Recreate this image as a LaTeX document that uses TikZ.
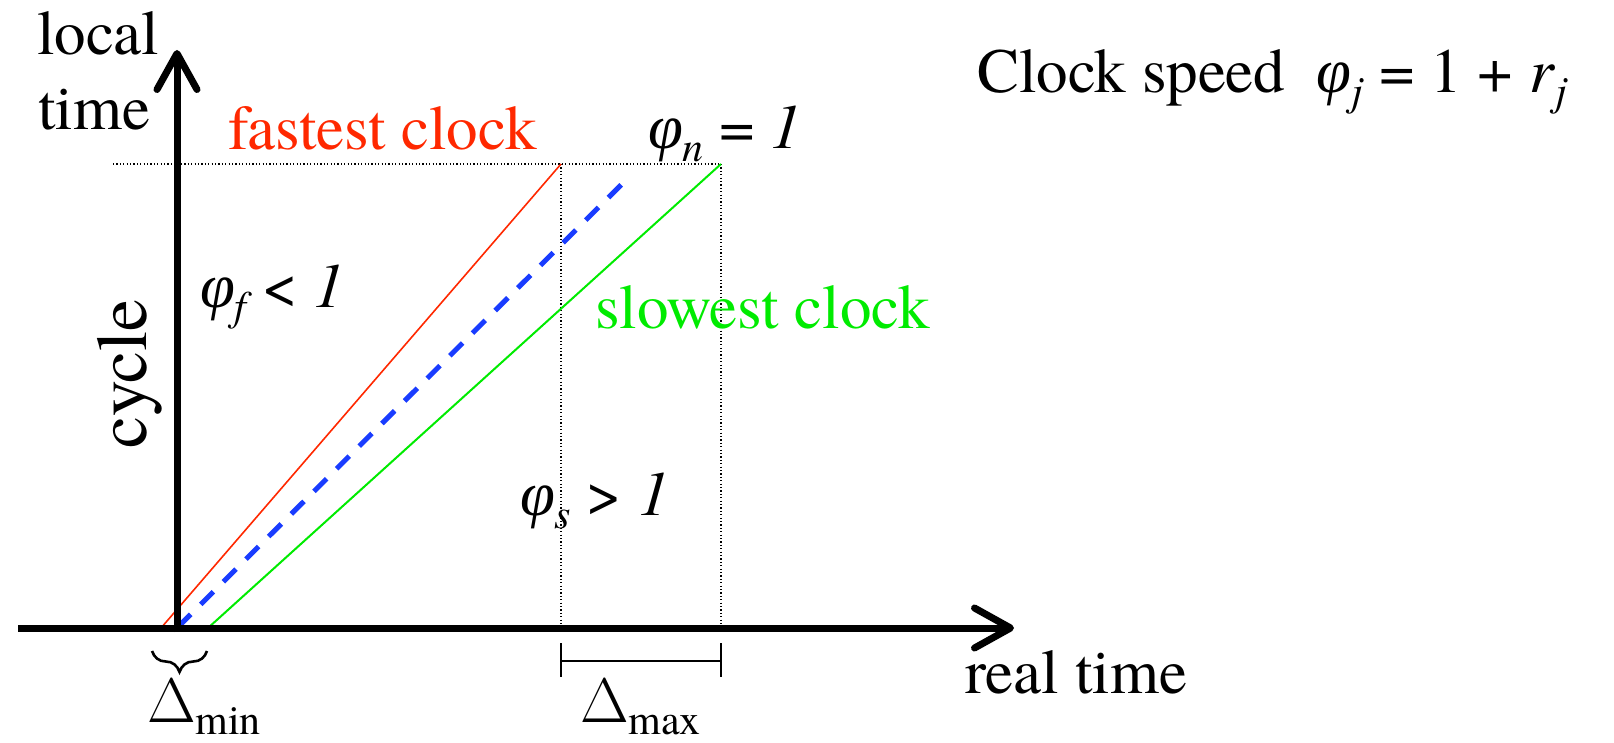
\RequirePackage{fix-cm}
\documentclass[tikz,border=0pt]{standalone}
\usepackage{fontspec}
\setmainfont{TeX Gyre Termes}
\newfontfamily\greekfont{Liberation Serif}
\usetikzlibrary{arrows.meta,decorations.pathreplacing}
\definecolor{fastred}{RGB}{255,40,0}
\definecolor{slowgreen}{RGB}{0,235,0}
\definecolor{nomblue}{RGB}{25,60,255}
\newcommand\subit[1]{\raisebox{-13pt}{\fontsize{42}{42}\selectfont\itshape #1}}
\newcommand\subrm[1]{\raisebox{-12pt}{\fontsize{42}{42}\selectfont #1}}
\newcommand\phisym{{\greekfont\itshape φ}}
\newcommand\Dsym{$\Delta$}
\begin{document}
\begin{tikzpicture}[x=1pt,y=-1pt,
  lbl/.style={font=\rmfamily\fontsize{63}{75}\selectfont, inner sep=0pt, outer sep=0pt, anchor=base west},
  axisline/.style={line width=7pt, -{Straight Barb[length=36pt,width=40pt,round]}},
  guide/.style={line width=1.2pt, dash pattern=on 1.2pt off 2.2pt},
  tick/.style={line width=1.6pt}]
\useasboundingbox (0,0) rectangle (1614,743);
% coordinates
\coordinate (O) at (177,628);
\coordinate (xstart) at (18,628);
\coordinate (xend) at (1014,628);
\coordinate (ystart) at (177,632);
\coordinate (yend) at (177,50);
\coordinate (hstart) at (113,164);
\coordinate (Ftop) at (561,164);
\coordinate (Stop) at (721,164);
\coordinate (Fbot) at (161,628);
\coordinate (Sbot) at (208,628);
\coordinate (Nbot) at (178,627);
\coordinate (Ntop) at (624,182);
\coordinate (Fax) at (561,628);
\coordinate (Sax) at (721,628);
% guides
\draw[guide] (hstart) -- (Stop);
\draw[guide] (Ftop) -- (Fax);
\draw[guide] (Stop) -- (Sax);
% clock lines
\draw[fastred, line width=1.6pt] (Fbot) -- (Ftop);
\draw[slowgreen, line width=2pt] (Sbot) -- (Stop);
\draw[nomblue, line width=5pt, dash pattern=on 18pt off 14pt] (Nbot) -- (Ntop);
% axes
\draw[axisline] (xstart) -- (xend);
\draw[axisline] (ystart) -- (yend);
% Delta max bracket
\coordinate (b1t) at (561,643);
\coordinate (b1b) at (561,677);
\coordinate (b2t) at (721,643);
\coordinate (b2b) at (721,677);
\coordinate (b1m) at (561,661);
\coordinate (b2m) at (721,661);
\draw[tick] (b1t) -- (b1b);
\draw[tick] (b2t) -- (b2b);
\draw[tick] (b1m) -- (b2m);
% Delta min brace
\coordinate (brR) at (207,651);
\coordinate (brL) at (152,651);
\draw[decorate, decoration={brace, amplitude=21pt}, line width=2.6pt] (brR) -- (brL);
% labels
\node[lbl] (local) at (37,55) {local};
\node[lbl] (time) at (38,130) {time};
\node[lbl, text=fastred] (fast) at (228,150) {fastest clock};
\node[lbl] (phin) at (648,149) {\phisym\subit{n} = \textit{1}};
\node[lbl] (phif) at (200,308) {\phisym\subit{f} < \textit{1}};
\node[lbl, text=slowgreen] (slow) at (595,328) {slowest clock};
\node[lbl] (phis) at (520,515) {\phisym\subit{s} > \textit{1}};
\node[lbl] (real) at (965,693) {real time};
\node[lbl] (speed) at (977,93) {Clock speed\ \ \phisym\subit{j} = 1 + \textit{r}\subit{j}};
\node[lbl] (dmin) at (147,722) {\Dsym\subrm{min}};
\node[lbl] (dmax) at (580,722) {\Dsym\subrm{max}};
\node[font=\rmfamily\fontsize{72}{80}\selectfont, inner sep=0pt, rotate=90] (cycle) at (130,374) {cycle};
\end{tikzpicture}
\end{document}
